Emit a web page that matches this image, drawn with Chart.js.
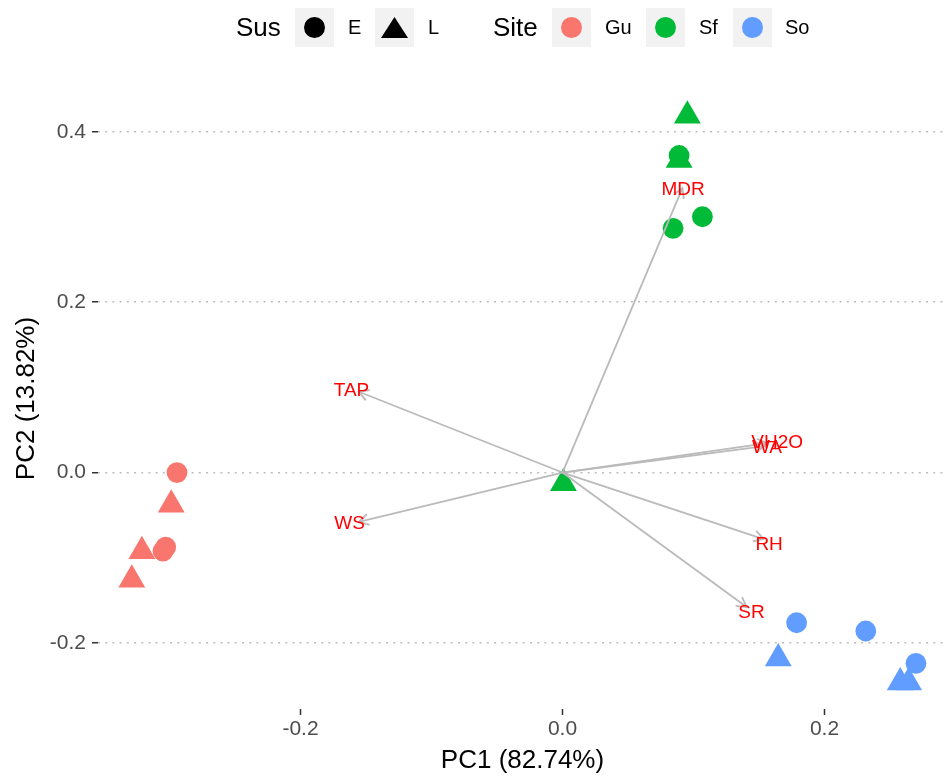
<!DOCTYPE html>
<html>
<head>
<meta charset="utf-8">
<script src="https://cdn.jsdelivr.net/npm/chart.js@4"></script>
<style>
  html, body { margin: 0; padding: 0; background: #fff; }
  #wrap { position: relative; width: 947px; height: 776px; font-family: "Liberation Sans", Arial, sans-serif; }
  #pca { position: absolute; left: 0; top: 0; }
  .leg { position: absolute; top: 8px; height: 39px; display: flex; align-items: center; color: #000; white-space: nowrap; }
  .leg.title { font-size: 26px; }
  .leg.lab { font-size: 20px; }
  .key { position: absolute; top: 8px; width: 39px; height: 39px; background: #f2f2f2; }
  .dot { position: absolute; left: 9px; top: 9px; width: 21px; height: 21px; border-radius: 50%; }
  .tri { position: absolute; left: 6px; top: 9px; width: 27px; height: 21px; background: #000;
         clip-path: polygon(50% 0, 100% 100%, 0 100%); }
</style>
</head>
<body>
<div id="wrap">
  <canvas id="pca" width="947" height="776"></canvas>

  <div class="leg title" style="left:236px">Sus</div>
  <div class="key" style="left:295px"><div class="dot" style="background:#000"></div></div>
  <div class="leg lab" style="left:348px">E</div>
  <div class="key" style="left:375px"><div class="tri"></div></div>
  <div class="leg lab" style="left:428px">L</div>

  <div class="leg title" style="left:493px">Site</div>
  <div class="key" style="left:552px"><div class="dot" style="background:#F8766D"></div></div>
  <div class="leg lab" style="left:605px">Gu</div>
  <div class="key" style="left:646px"><div class="dot" style="background:#00BA38"></div></div>
  <div class="leg lab" style="left:699px">Sf</div>
  <div class="key" style="left:733px"><div class="dot" style="background:#619CFF"></div></div>
  <div class="leg lab" style="left:785px">So</div>
</div>

<script>
  // Individuals (PC1, PC2) by site and susceptibility
  const guEx = [-0.2943, -0.3050, -0.3029];
  const guEy = [0.0000, -0.0922, -0.0875];
  const guLx = [-0.2987, -0.3211, -0.3288];
  const guLy = [-0.0377, -0.0925, -0.1259];

  const sfEx = [0.0890, 0.0844, 0.1068];
  const sfEy = [0.3723, 0.2868, 0.3004];
  const sfLx = [0.0953, 0.0890, 0.0007];
  const sfLy = [0.4191, 0.3671, -0.0127];

  const soEx = [0.1787, 0.2315, 0.2698];
  const soEy = [-0.1764, -0.1861, -0.2241];
  const soLx = [0.1647, 0.2578, 0.2642];
  const soLy = [-0.2183, -0.2465, -0.2465];

  // Variable loadings (arrow tips) and where their labels sit
  const varNames = ['MDR', 'TAP', 'WS', 'VH2O', 'WA', 'RH', 'SR'];
  const loadX = [0.0915, -0.1554, -0.1554, 0.1562, 0.1543, 0.1535, 0.1405];
  const loadY = [0.3341, 0.0949, -0.0578, 0.0346, 0.0311, -0.0781, -0.1580];
  const labelX = [0.0920, -0.1611, -0.1625, 0.1639, 0.1560, 0.1577, 0.1443];
  const labelY = [0.3318, 0.0959, -0.0597, 0.0346, 0.0288, -0.0851, -0.1650];

  const xTicks = [-0.2, 0.0, 0.2];
  const yTicks = [-0.2, 0.0, 0.2, 0.4];

  const siteColors = { Gu: '#F8766D', Sf: '#00BA38', So: '#619CFF' };
  const FONT = '"Liberation Sans", Arial, sans-serif';

  const toPts = (xs, ys) => xs.map((x, i) => ({ x: x, y: ys[i] }));

  function pointSet(site, sus, xs, ys) {
    const tri = sus === 'L';
    return {
      label: site + '-' + sus,
      data: toPts(xs, ys),
      backgroundColor: siteColors[site],
      borderWidth: 0,
      pointStyle: tri ? 'triangle' : 'circle',
      pointRadius: tri ? 15.5 : 10.4,
      order: 1
    };
  }

  const datasets = [
    pointSet('Gu', 'E', guEx, guEy),
    pointSet('Gu', 'L', guLx, guLy),
    pointSet('Sf', 'E', sfEx, sfEy),
    pointSet('Sf', 'L', sfLx, sfLy),
    pointSet('So', 'E', soEx, soEy),
    pointSet('So', 'L', soLx, soLy)
  ];

  // arrows from origin to each loading
  varNames.forEach((name, i) => {
    datasets.push({
      label: 'arrow-' + name,
      isArrow: true,
      data: [{ x: 0, y: 0 }, { x: loadX[i], y: loadY[i] }],
      showLine: true,
      borderColor: '#bababa',
      borderWidth: 1.8,
      pointRadius: 0,
      order: 0
    });
  });

  // arrowheads and variable labels
  const biplotExtras = {
    id: 'biplotExtras',
    afterDatasetsDraw(chart) {
      const ctx = chart.ctx;
      ctx.save();
      ctx.strokeStyle = '#bababa';
      ctx.lineWidth = 1.8;
      chart.data.datasets.forEach((ds, di) => {
        if (!ds.isArrow) return;
        const pts = chart.getDatasetMeta(di).data;
        const a = pts[0], b = pts[1];
        const ang = Math.atan2(b.y - a.y, b.x - a.x);
        const len = 11;
        ctx.beginPath();
        ctx.moveTo(b.x - len * Math.cos(ang - Math.PI / 6), b.y - len * Math.sin(ang - Math.PI / 6));
        ctx.lineTo(b.x, b.y);
        ctx.lineTo(b.x - len * Math.cos(ang + Math.PI / 6), b.y - len * Math.sin(ang + Math.PI / 6));
        ctx.stroke();
      });
      const xs = chart.scales.x, ys = chart.scales.y;
      ctx.fillStyle = '#FF0000';
      ctx.font = '19px ' + FONT;
      ctx.textAlign = 'center';
      ctx.textBaseline = 'middle';
      varNames.forEach((name, i) => {
        ctx.fillText(name, xs.getPixelForValue(labelX[i]), ys.getPixelForValue(labelY[i]));
      });
      ctx.restore();
    }
  };

  new Chart(document.getElementById('pca'), {
    type: 'scatter',
    data: { datasets: datasets },
    plugins: [biplotExtras],
    options: {
      responsive: false,
      animation: false,
      events: [],
      layout: { autoPadding: false, padding: { top: 88, right: 0, left: 0, bottom: 0 } },
      plugins: { legend: { display: false }, tooltip: { enabled: false } },
      scales: {
        x: {
          type: 'linear',
          min: -0.3546,
          max: 0.2935,
          afterBuildTicks: s => { s.ticks = xTicks.map(v => ({ value: v })); },
          afterFit: s => { s.height = 67; },
          grid: { drawOnChartArea: false, drawTicks: true, tickLength: 6, tickColor: '#333', tickWidth: 1.5 },
          border: { display: false },
          ticks: { color: '#4d4d4d', padding: 2, font: { family: FONT, size: 21 }, callback: v => v.toFixed(1) },
          title: { display: true, text: 'PC1 (82.74%)', color: '#000', padding: { top: 0, bottom: 0 }, font: { family: FONT, size: 26 } }
        },
        y: {
          type: 'linear',
          min: -0.2777,
          max: 0.4516,
          afterBuildTicks: s => { s.ticks = yTicks.map(v => ({ value: v })); },
          afterFit: s => { s.width = 98; },
          grid: { color: '#bdbdbd', lineWidth: 1.5, drawTicks: true, tickLength: 6, tickColor: '#333', tickWidth: 1.5 },
          border: { display: false, dash: [2, 5.2] },
          ticks: { color: '#4d4d4d', padding: 6, font: { family: FONT, size: 21 }, callback: v => v.toFixed(1) },
          title: { display: true, text: 'PC2 (13.82%)', color: '#000', padding: { top: 11, bottom: 0 }, font: { family: FONT, size: 26 } }
        }
      }
    }
  });
</script>
</body>
</html>
